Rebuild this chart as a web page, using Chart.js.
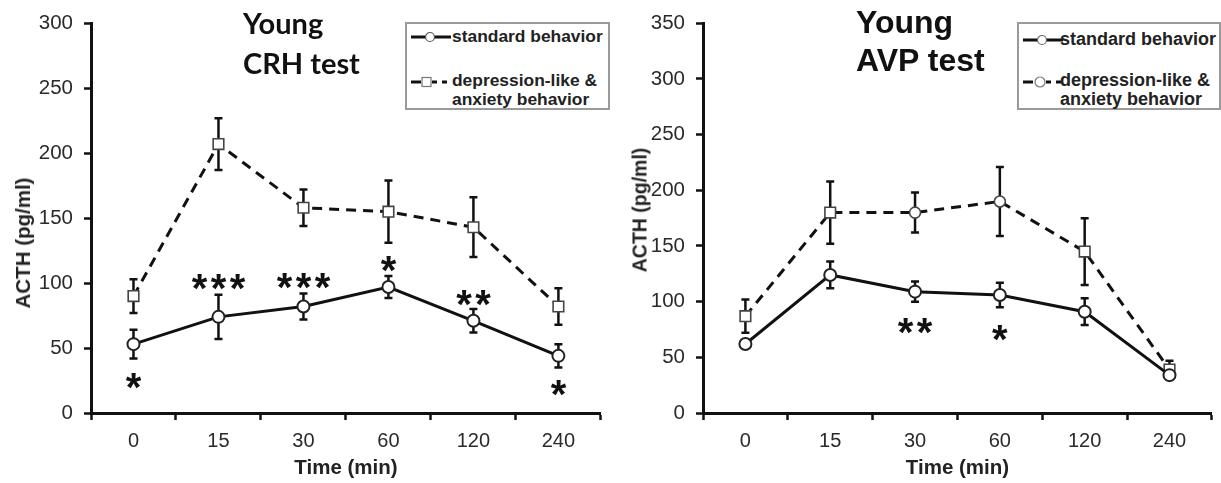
<!DOCTYPE html>
<html>
<head>
<meta charset="utf-8">
<script src="https://cdn.jsdelivr.net/npm/chart.js@4"></script>
<style>
  body { margin: 0; background: #fff; }
  #page { position: relative; width: 1221px; height: 483px; overflow: hidden; font-family: "Liberation Sans", Arial, sans-serif; }
  .wrap { position: absolute; top: 0; height: 483px; }
  .ttl { position: absolute; font-weight: bold; color: #111; white-space: nowrap; }
  .ytitle { position: absolute; font-weight: bold; color: #222; white-space: nowrap; transform: translate(-50%, -50%) rotate(-90deg); }
  .legend { position: absolute; box-sizing: border-box; border: 2px solid #9a9a9a; background: #fff; }
  .legend .row { position: absolute; font-weight: bold; color: #222; white-space: nowrap; line-height: 19px; }
  .legend svg { position: absolute; }
</style>
</head>
<body>
<div id="page">
  <div class="wrap" style="left:0;width:610px"><canvas id="crh" width="610" height="483"></canvas></div>
  <div class="wrap" style="left:610px;width:611px"><canvas id="avp" width="611" height="483"></canvas></div>

  <!-- titles -->
  <div class="ttl" style="left:243px;top:3px;font:bold 29px Lato, sans-serif;line-height:40px">Young<br>CRH test</div>
  <div class="ttl" style="left:856px;top:3px;font-size:32px;line-height:38px">Young<br>AVP test</div>

  <!-- y titles -->
  <div class="ytitle" style="left:23px;top:243px;font-size:20.5px">ACTH (pg/ml)</div>
  <div class="ytitle" style="left:640px;top:210px;font-size:19.5px">ACTH (pg/ml)</div>

  <!-- legends -->
  <div class="legend" style="left:405px;top:22px;width:205px;height:88px">
    <svg style="left:3px;top:7px" width="42" height="12">
      <line x1="1" y1="6" x2="41" y2="6" stroke="#111" stroke-width="3"/>
      <circle cx="20" cy="6" r="4.5" fill="#fff" stroke="#555" stroke-width="1.2"/>
    </svg>
    <div class="row" style="left:45px;top:3px;font-size:17.4px">standard behavior</div>
    <svg style="left:3px;top:52px" width="42" height="12">
      <line x1="1" y1="6" x2="11" y2="6" stroke="#111" stroke-width="3"/>
      <line x1="22" y1="6" x2="41" y2="6" stroke="#111" stroke-width="3" stroke-dasharray="5,5"/>
      <rect x="12" y="1.5" width="9" height="9" fill="#fff" stroke="#777" stroke-width="1.2"/>
    </svg>
    <div class="row" style="left:45px;top:47px;font-size:17.4px">depression-like &amp;<br>anxiety behavior</div>
  </div>
  <div class="legend" style="left:1017px;top:22px;width:204px;height:88px">
    <svg style="left:3px;top:10px" width="42" height="12">
      <line x1="1" y1="6" x2="41" y2="6" stroke="#111" stroke-width="3"/>
      <circle cx="20" cy="6" r="4.5" fill="#fff" stroke="#666" stroke-width="1.2"/>
    </svg>
    <div class="row" style="left:41px;top:6px;font-size:18px">standard behavior</div>
    <svg style="left:3px;top:52px" width="42" height="12">
      <line x1="1" y1="6" x2="11" y2="6" stroke="#111" stroke-width="3"/>
      <line x1="24" y1="6" x2="41" y2="6" stroke="#111" stroke-width="3" stroke-dasharray="5,5"/>
      <circle cx="18" cy="6" r="5" fill="#fff" stroke="#777" stroke-width="1.2"/>
    </svg>
    <div class="row" style="left:41px;top:47px;font-size:18px">depression-like &amp;<br>anxiety behavior</div>
  </div>
</div>

<script>
// time points (min)
const times = ['0', '15', '30', '60', '120', '240'];

// CRH test, ACTH (pg/ml), mean and error bar half-length
const crhStd = [53, 74, 82, 97, 71, 44];
const crhStdErr = [11, 17, 10, 8.5, 9, 9];
const crhDep = [90, 207, 158, 155, 143, 82];
const crhDepErr = [13, 20, 14, 24, 23, 14];
const crhStars = ['*', '***', '***', '*', '**', '*'];
const crhStarY = [27, 103, 104, 117, 91, 22];

// AVP test
const avpStd = [62, 124, 109, 106, 91, 34];
const avpStdErr = [3, 12, 9, 11, 12, 4];
const avpDep = [87, 180, 180, 190, 145, 39];
const avpDepErr = [15, 28, 18, 31, 30, 8];
const avpStars = ['', '', '**', '*', '', ''];
const avpStarY = [null, null, 81, 75, null, null];

// y axis ticks
const crhMax = 300;
const avpMax = 350;
const yStep = 50;

// error bars under the points, asterisks on top
const errorBars = {
  id: 'errorBars',
  beforeDatasetsDraw(chart) {
    const ctx = chart.ctx;
    const y = chart.scales.y;
    chart.data.datasets.forEach((ds, i) => {
      const meta = chart.getDatasetMeta(i);
      meta.data.forEach((pt, j) => {
        const v = ds.data[j], e = ds.err[j];
        const top = y.getPixelForValue(v + e);
        const bot = y.getPixelForValue(v - e);
        ctx.save();
        ctx.strokeStyle = '#111';
        ctx.lineWidth = 2.5;
        ctx.beginPath();
        ctx.moveTo(pt.x, top); ctx.lineTo(pt.x, bot);
        ctx.moveTo(pt.x - 4, top); ctx.lineTo(pt.x + 4, top);
        ctx.moveTo(pt.x - 4, bot); ctx.lineTo(pt.x + 4, bot);
        ctx.stroke();
        ctx.restore();
      });
    });
  },
  afterDatasetsDraw(chart) {
    const ctx = chart.ctx;
    const x = chart.scales.x, y = chart.scales.y;
    chart.data.datasets.forEach(ds => {
      if (!ds.stars) return;
      ds.stars.forEach((s, j) => {
        if (!s) return;
        const cx = x.getPixelForValue(j);
        const cy = y.getPixelForValue(ds.starY[j]);
        ctx.save();
        ctx.fillStyle = '#111';
        ctx.font = 'bold 40px "Liberation Sans", Arial, sans-serif';
        ctx.textAlign = 'center';
        ctx.textBaseline = 'alphabetic';
        const gap = 19;
        for (let k = 0; k < s.length; k++) {
          const px = cx + (k - (s.length - 1) / 2) * gap;
          ctx.fillText('*', px, cy + 0.58 * 40);
        }
        ctx.restore();
      });
    });
  }
};

function makeChart(id, std, stdErr, dep, depErr, stars, starY, yMax, yWidth, padRight, depStyle, depRadius) {
  return new Chart(document.getElementById(id), {
    type: 'line',
    data: {
      labels: times,
      datasets: [
        {
          label: 'standard behavior',
          data: std,
          err: stdErr,
          stars: stars,
          starY: starY,
          borderColor: '#111',
          borderWidth: 3,
          pointStyle: 'circle',
          pointRadius: 6,
          pointBackgroundColor: '#fff',
          pointBorderColor: '#222',
          pointBorderWidth: 2,
          tension: 0
        },
        {
          label: 'depression-like & anxiety behavior',
          data: dep,
          err: depErr,
          borderColor: '#111',
          borderWidth: 3,
          borderDash: [10, 7],
          pointStyle: depStyle,
          pointRadius: depRadius,
          pointBackgroundColor: '#fff',
          pointBorderColor: '#444',
          pointBorderWidth: 1.6,
          tension: 0
        }
      ]
    },
    options: {
      responsive: false,
      animation: false,
      layout: { padding: { top: 20, right: padRight, left: 0, bottom: 0 } },
      plugins: { legend: { display: false }, tooltip: { enabled: false } },
      scales: {
        x: {
          type: 'category',
          offset: true,
          grid: { offset: true, drawOnChartArea: false, drawTicks: true, tickLength: 7, tickWidth: 2.5, tickColor: '#111' },
          border: { display: true, color: '#111', width: 3 },
          ticks: { color: '#2a2a2a', font: { size: 20, family: '"Liberation Sans", Arial' }, padding: 9 },
          title: { display: true, text: 'Time (min)', color: '#222', font: { size: 20.5, weight: 'bold', family: '"Liberation Sans", Arial' }, padding: { top: 0, bottom: 2 } },
          afterFit: s => { s.height = 70; }
        },
        y: {
          min: 0,
          max: yMax,
          grid: { drawOnChartArea: false, drawTicks: true, tickLength: 7, tickWidth: 2.5, tickColor: '#111' },
          border: { display: true, color: '#111', width: 3 },
          ticks: { stepSize: yStep, color: '#2a2a2a', font: { size: 20.5, family: '"Liberation Sans", Arial' }, padding: 11 },
          afterFit: s => { s.width = yWidth; }
        }
      }
    },
    plugins: [errorBars]
  });
}

makeChart('crh', crhStd, crhStdErr, crhDep, crhDepErr, crhStars, crhStarY, crhMax, 91, 2, 'rect', 7.5);
makeChart('avp', avpStd, avpStdErr, avpDep, avpDepErr, avpStars, avpStarY, avpMax, 93, 1,
  ['rect', 'rect', 'circle', 'circle', 'rect', 'rect'], [7.5, 7.5, 5.5, 5.5, 7.5, 7.5]);
</script>
</body>
</html>
